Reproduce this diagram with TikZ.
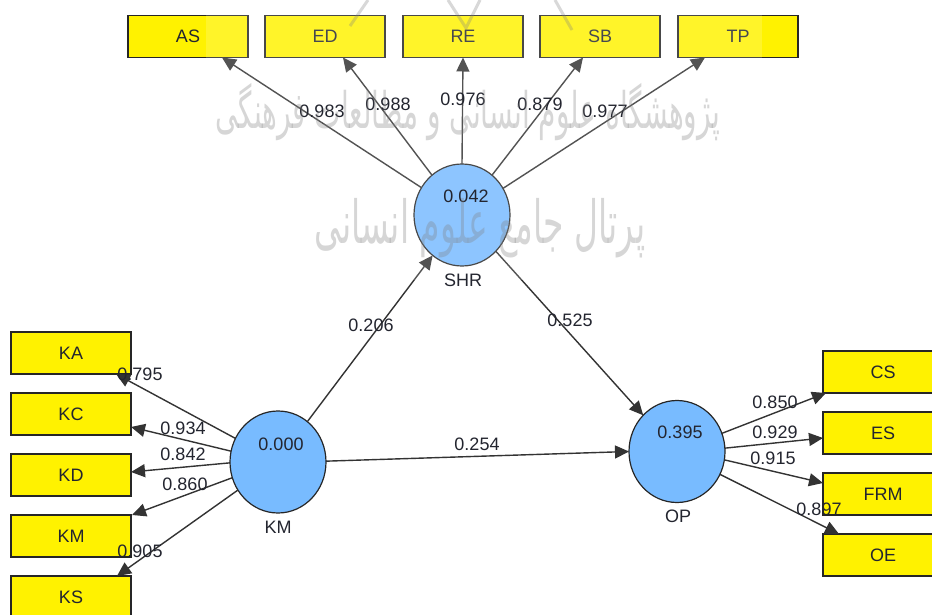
\documentclass[tikz,border=0pt]{standalone}
\usepackage{fontspec}
\setmainfont{Liberation Sans}
\newfontfamily\arabicfont[Script=Arabic]{DejaVu Sans}
\TeXXeTstate=1
\usetikzlibrary{arrows.meta,shapes.geometric}
\definecolor{ink}{HTML}{23252F}
\definecolor{edge}{HTML}{333333}
\definecolor{lat}{HTML}{78BBFF}
\tikzset{
  ind/.style={draw=black!85,line width=1.2pt,fill=yellow,minimum width=120pt,minimum height=42pt,inner sep=0pt,outer sep=0pt,text=ink,font=\fontsize{18}{20}\selectfont},
  latent/.style={ellipse,draw=black!85,line width=1.2pt,fill=lat,minimum width=96pt,minimum height=102pt,inner sep=0pt,outer sep=0pt},
  val/.style={inner sep=0pt,text=ink,font=\fontsize{18}{20}\selectfont},
  conn/.style={draw=edge,line width=1.4pt,-{Triangle[length=14pt,width=13pt]}},
  wmark/.style={inner sep=0pt,text=gray,opacity=.32},
}
\begin{document}
\begin{tikzpicture}[x=1pt,y=-1pt]
\useasboundingbox (0,0) rectangle (932,615);
\clip (0,0) rectangle (932,615);
\fill[white] (0,0) rectangle (932,615);
% indicator boxes
\node[ind] (AS) at (188,36.5) {AS};
\node[ind] (ED) at (325,36.5) {ED};
\node[ind] (RE) at (463,36.5) {RE};
\node[ind] (SB) at (600,36.5) {SB};
\node[ind] (TP) at (738,36.5) {TP};
\node[ind] (KA) at (71,353) {KA};
\node[ind] (KC) at (71,414) {KC};
\node[ind] (KD) at (71,475) {KD};
\node[ind] (KMi) at (71,536) {KM};
\node[ind] (KS) at (71,597) {KS};
\node[ind] (CS) at (883,372) {CS};
\node[ind] (ES) at (883,433) {ES};
\node[ind] (FRM) at (883,494) {FRM};
\node[ind] (OE) at (883,555) {OE};
% latent variables
\node[latent] (KM) at (278,462) {};
\node[latent] (SHR) at (462,215) {};
\node[latent] (OP) at (677,451.5) {};
% connectors
\draw[conn] (KM.151) -- ([xshift=-15pt]KA.south east);
\draw[conn] (KM.167) -- ([yshift=-13pt]KC.east);
\draw[conn] (KM.181) -- ([yshift=3pt]KD.east);
\draw[conn] (KM.199) -- ([xshift=1pt]KMi.north east);
\draw[conn] (KM.215.5) -- ([xshift=-14pt]KS.north east);
\draw[conn] (SHR.146) -- ([xshift=34pt]AS.south);
\draw[conn] (SHR.127) -- ([xshift=18pt]ED.south);
\draw[conn] (SHR.90) -- (RE.south);
\draw[conn] (SHR.53.5) -- ([xshift=-17pt]SB.south);
\draw[conn] (SHR.33) -- ([xshift=-33pt]TP.south);
\draw[conn] (KM.54) -- (SHR.234);
\draw[conn] (SHR.-47) -- (OP.133);
\draw[conn] (KM.1) -- (OP.180);
\draw[conn] (OP.22) -- ([xshift=3pt]CS.south west);
\draw[conn] (OP.4) -- ([yshift=-5pt]ES.west);
\draw[conn] (OP.350) -- ([yshift=11pt]FRM.west);
\draw[conn] (OP.332) -- ([xshift=16pt]OE.north west);
% faded band of the watermark
\fill[white,opacity=.16] (206,0) rectangle (762,280);
% construct values and names
\node[val] (vKM) at (281,444) {0.000};
\node[val] (vSHR) at (466,196) {0.042};
\node[val] (vOP) at (680,432) {0.395};
\node[val] (nKM) at (278,527) {KM};
\node[val] (nSHR) at (463,280) {SHR};
\node[val] (nOP) at (678,516) {OP};
% path values
\node[val] (l1) at (140,374) {0.795};
\node[val] (l2) at (183,428) {0.934};
\node[val] (l3) at (183,454) {0.842};
\node[val] (l4) at (185,484) {0.860};
\node[val] (l5) at (140,551) {0.905};
\node[val] (t1) at (322,111) {0.983};
\node[val] (t2) at (388,104) {0.988};
\node[val] (t3) at (463,99) {0.976};
\node[val] (t4) at (540,104) {0.879};
\node[val] (t5) at (605,111) {0.977};
\node[val] (p1) at (371,325) {0.206};
\node[val] (p2) at (570,320) {0.525};
\node[val] (p3) at (477,444) {0.254};
\node[val] (r1) at (775,402) {0.850};
\node[val] (r2) at (775,432) {0.929};
\node[val] (r3) at (773,458) {0.915};
\node[val] (r4) at (819,509) {0.897};
% watermark
\node[wmark] (w1) at (468,112) {\scalebox{1}[1.8]{\fontsize{28}{30}\selectfont\arabicfont\beginR پژوهشگاه علوم انسانی و مطالعات فرهنگی\endR}};
\node[wmark] (w2) at (480,228) {\scalebox{1}[1.8]{\fontsize{33}{36}\selectfont\arabicfont\beginR پرتال جامع علوم انسانی\endR}};
\draw[gray,opacity=.3,line width=3pt] (368,0) -- (350,26);
\draw[gray,opacity=.3,line width=3pt] (448,0) -- (466,28) -- (480,0);
\draw[gray,opacity=.3,line width=3pt] (555,0) -- (572,30);
\end{tikzpicture}
\end{document}
